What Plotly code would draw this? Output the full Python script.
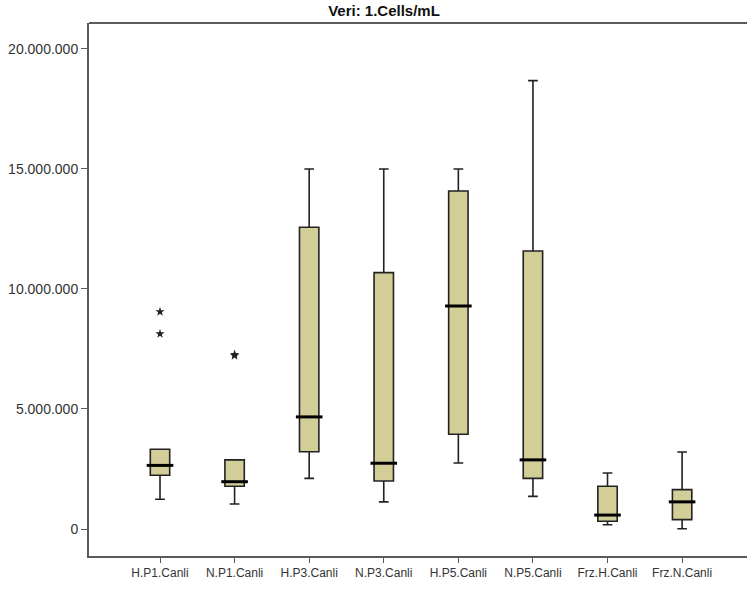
import plotly.graph_objects as go

categories = ["H.P1.Canli", "N.P1.Canli", "H.P3.Canli", "N.P3.Canli",
              "H.P5.Canli", "N.P5.Canli", "Frz.H.Canli", "Frz.N.Canli"]
lower_whisker = [1.24e6, 1.04e6, 2.11e6, 1.13e6, 2.75e6, 1.36e6, 0.18e6, 0.01e6]
q1_values = [2.24e6, 1.78e6, 3.22e6, 2.00e6, 3.95e6, 2.11e6, 0.32e6, 0.39e6]
medians = [2.65e6, 1.97e6, 4.67e6, 2.74e6, 9.29e6, 2.88e6, 0.58e6, 1.13e6]
q3_values = [3.32e6, 2.88e6, 12.57e6, 10.68e6, 14.08e6, 11.58e6, 1.78e6, 1.64e6]
upper_whisker = [3.32e6, 2.88e6, 15.0e6, 15.0e6, 15.0e6, 18.68e6, 2.33e6, 3.21e6]

outlier_cats = ["H.P1.Canli", "H.P1.Canli", "N.P1.Canli", "N.P1.Canli"]
outlier_values = [9.05e6, 8.13e6, 7.22e6, 7.27e6]

tick_vals = [0, 5e6, 10e6, 15e6, 20e6]
tick_text = ["0", "5.000.000", "10.000.000", "15.000.000", "20.000.000"]

fig = go.Figure()
fig.add_trace(go.Box(
    x=categories, q1=q1_values, median=medians, q3=q3_values,
    lowerfence=lower_whisker, upperfence=upper_whisker,
    fillcolor="#D3CE98", line=dict(color="#222222", width=1.6),
    width=0.26, whiskerwidth=0.5, boxpoints=False, showlegend=False,
    hoverinfo="skip",
))
fig.add_trace(go.Scatter(
    x=categories, y=medians, mode="markers", showlegend=False,
    marker=dict(symbol="line-ew-open", size=19, color="#000000",
                line=dict(color="#000000", width=3)),
    hoverinfo="skip",
))
fig.add_trace(go.Scatter(
    x=outlier_cats, y=outlier_values, mode="markers", showlegend=False,
    marker=dict(symbol="star", size=7, color="#222222", line=dict(width=0)),
))

fig.update_layout(
    width=747, height=590,
    margin=dict(l=89, r=0, t=23, b=34),
    paper_bgcolor="white", plot_bgcolor="white",
    font=dict(family="Liberation Sans, Arial, sans-serif", size=12, color="#333333"),
    title=dict(text="<b>Veri: 1.Cells/mL</b>", x=384 / 747, xanchor="center",
               y=1 - 11 / 590, yanchor="middle",
               font=dict(size=15, color="#111111")),
)
fig.update_xaxes(
    type="category", range=[-0.952, 7.87],
    showline=True, linecolor="#5a5a5a", linewidth=2, mirror=False,
    ticks="outside", ticklen=5, tickcolor="#5a5a5a", tickwidth=1,
    showgrid=False, zeroline=False, tickfont=dict(size=12, color="#333333"),
)
fig.update_yaxes(
    range=[-1.125e6, 21.08e6], tickvals=tick_vals, ticktext=tick_text,
    showline=True, linecolor="#5a5a5a", linewidth=2, mirror=False,
    ticks="outside", ticklen=6, tickcolor="#5a5a5a", tickwidth=1,
    showgrid=False, zeroline=False, tickfont=dict(size=14, color="#333333"),
)
# top frame line
fig.add_shape(type="line", xref="paper", yref="paper", x0=0, x1=1, y0=1, y1=1,
              line=dict(color="#5a5a5a", width=2))

fig.write_html("out.html", config={"displayModeBar": False},
               post_script="document.body.style.margin='0';")
